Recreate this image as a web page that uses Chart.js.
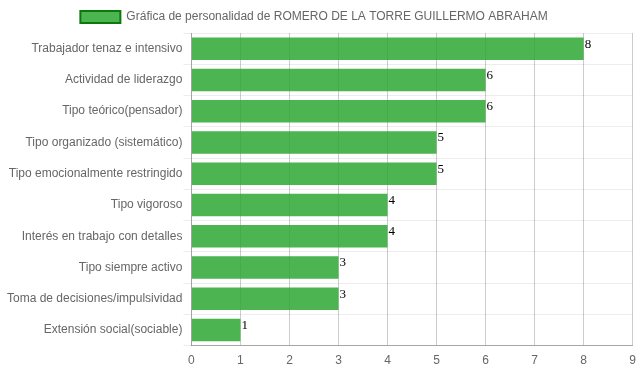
<!DOCTYPE html>
<html><head><meta charset="utf-8">
<script src="https://cdn.jsdelivr.net/npm/chart.js@4/dist/chart.umd.min.js"></script>
<style>html,body{margin:0;padding:0;background:#fff}#wrap{width:639px;height:372px}</style>
</head><body><div id="wrap"><canvas id="c"></canvas></div>
<script>
const categories = ["Trabajador tenaz e intensivo","Actividad de liderazgo","Tipo teórico(pensador)","Tipo organizado (sistemático)","Tipo emocionalmente restringido","Tipo vigoroso","Interés en trabajo con detalles","Tipo siempre activo","Toma de decisiones/impulsividad","Extensión social(sociable)"];
const values = [8,6,6,5,5,4,4,3,3,1];
const seriesLabel = "Gráfica de personalidad de ROMERO DE LA TORRE GUILLERMO ABRAHAM";

Chart.defaults.font.family = "'Liberation Sans', Arial, sans-serif";
Chart.defaults.font.size = 12;
Chart.defaults.color = '#666';

const valueLabels = {
  id: 'valueLabels',
  afterLayout(chart) {
    if (chart.legend) { chart.legend.left -= 8; chart.legend.right -= 8; }
  },
  afterDatasetsDraw(chart) {
    const ctx = chart.ctx;
    ctx.save();
    ctx.font = "13px 'Liberation Serif', 'Times New Roman', serif";
    ctx.fillStyle = '#000';
    ctx.textAlign = 'left';
    ctx.textBaseline = 'bottom';
    chart.getDatasetMeta(0).data.forEach((bar, i) => {
      ctx.fillText(values[i], bar.x + 1, bar.y + 2);
    });
    ctx.restore();
  }
};

new Chart(document.getElementById('c'), {
  type: 'bar',
  data: {
    labels: categories,
    datasets: [{
      label: seriesLabel,
      data: values,
      backgroundColor: 'rgba(40,165,45,0.83)',
      borderWidth: 0
    }]
  },
  options: {
    indexAxis: 'y',
    responsive: true,
    maintainAspectRatio: false,
    animation: false,
    layout: { padding: { right: 1, left: 6, top: 1, bottom: 1 } },
    plugins: {
      tooltip: { enabled: false },
      legend: {
        labels: {
          boxWidth: 40,
          generateLabels: () => [{ text: seriesLabel, fillStyle: 'rgba(40,165,45,0.83)', strokeStyle: '#0a7a0a', lineWidth: 2, fontColor: '#666' }]
        }
      }
    },
    scales: {
      x: {
        min: 0, max: 9,
        ticks: { stepSize: 1, padding: 3 },
        grid: { color: 'rgba(0,0,0,0.2)', tickLength: 5, tickColor: 'rgba(0,0,0,0)' },
        border: { color: 'rgba(0,0,0,0.3)' }
      },
      y: {
        ticks: { padding: 1 },
        grid: { color: 'rgba(0,0,0,0.07)', tickLength: 8 },
        border: { color: 'rgba(0,0,0,0.2)' }
      }
    }
  },
  plugins: [valueLabels]
});
</script></body></html>
